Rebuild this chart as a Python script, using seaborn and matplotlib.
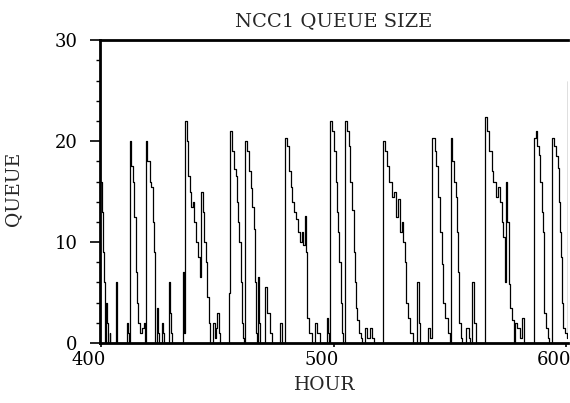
"""
NCC1 queue size over hours 400-600, redrawn as a step trace.
"""

import matplotlib

matplotlib.use("Agg")

import matplotlib.pyplot as plt
import pandas as pd
import seaborn as sns
from matplotlib.transforms import ScaledTranslation

# queue length at each change point
hour = [
    400.0, 400.4, 400.8, 401.2, 401.6, 402.3, 402.6, 402.9, 403.6, 403.9,
    406.3, 406.7, 407.0, 411.0, 411.6, 412.0,
    412.3, 413.0, 413.6, 414.3, 414.8, 415.4, 415.8, 416.5, 417.5, 418.3, 418.8,
    419.2, 419.8, 420.8, 421.5, 422.2, 422.8, 423.0, 423.3,
    424.0, 424.4, 424.7, 426.0, 426.5, 427.0, 429.2, 429.6, 430.0, 430.3,
    435.3, 435.7, 436.2, 436.8, 437.3, 438.0, 438.7, 439.3, 440.0, 440.8,
    441.6, 442.3, 443.0, 443.8, 444.4, 445.0, 445.6, 446.2, 446.6, 447.0,
    448.0, 448.8, 449.4, 450.0, 450.5, 451.2,
    455.0, 455.4, 456.2, 457.0, 457.8, 458.5, 459.0, 459.5, 460.0, 460.5,
    461.0, 461.4,
    462.0, 462.8, 463.6, 464.4, 465.0, 465.6, 466.0, 466.5, 467.0,
    467.5, 468.0, 468.5, 470.5, 471.5, 472.5, 473.5, 477.0, 477.8,
    479.2, 480.0, 480.8, 481.5, 482.2, 483.0, 483.8, 484.6, 485.4, 486.2,
    487.0, 487.6, 488.0, 488.5, 489.3, 490.5,
    492.0, 493.0, 494.0, 497.0, 497.5, 498.2,
    498.5, 499.3, 500.0, 500.8, 501.5, 502.0, 502.5, 503.0, 503.5, 504.0,
    505.0, 505.8, 506.5, 507.2, 508.0, 508.6, 509.0, 509.6, 510.2, 511.0,
    511.8, 512.3,
    513.5, 514.5, 515.5, 516.5, 517.2,
    521.0, 522.0, 523.0, 524.0, 525.0, 526.0, 527.0, 527.8, 528.5, 529.3,
    530.0, 530.7, 531.3, 532.0, 533.0, 534.0,
    536.0, 536.5, 537.0, 540.5, 541.5,
    542.5, 543.5, 544.2, 545.0, 545.8, 546.6, 547.2, 548.0, 549.0, 550.0,
    550.3, 551.0, 551.8, 552.5, 553.0, 553.5, 554.0, 554.8, 555.3,
    557.0, 558.0, 558.5, 559.5, 560.3, 561.0,
    565.0, 566.0, 567.0, 568.0, 568.7, 569.8, 570.8, 571.6, 572.3, 573.0,
    573.6, 574.0, 574.6, 575.3, 576.0, 576.8, 577.5,
    578.0, 579.0, 580.0, 581.0, 582.0,
    586.0, 586.8, 587.6, 588.3, 588.8, 589.4, 590.0, 590.6, 591.3, 592.0,
    592.5,
    594.0, 594.8, 595.6, 596.3, 596.8, 597.3, 597.8, 598.3, 598.8, 599.5,
    600.2, 600.6, 600.9,
]
queue = [
    16, 13, 9, 6, 0, 4, 2, 0, 1, 0,
    6, 1, 0, 2, 1, 0,
    20, 17.5, 16, 12.5, 7, 4, 2, 1, 1.5, 2, 0,
    20, 18, 16, 15.5, 12, 9, 6.5, 0,
    3.5, 1, 0, 2, 1, 0, 6, 3, 1, 0,
    7, 1, 22, 20, 16.5, 15, 13.5, 14, 12, 10,
    8.5, 6.5, 15, 13, 10, 8, 4.6, 2, 1, 0,
    2, 0.5, 1.5, 3, 1, 0,
    5, 21, 19, 17.2, 16.5, 14, 12, 10, 6, 2,
    0.5, 0,
    20, 19, 17, 15.4, 13.5, 11.3, 6, 1, 0,
    6.5, 2, 0, 5.5, 3, 1, 0, 2, 0,
    20.3, 19.5, 17, 15.5, 14, 13, 12.3, 11, 10, 11,
    9.7, 12.6, 9, 2.5, 1, 0,
    2, 1, 0, 2.5, 1, 0,
    22, 21, 19, 16, 13, 11, 8, 4, 1, 0,
    22, 21, 19.5, 16, 13.2, 9, 6, 3.5, 2.3, 1,
    0.5, 0,
    1.5, 0.5, 1.5, 0.5, 0,
    20, 19, 17.5, 16, 14.5, 15, 12.5, 14.3, 11, 12,
    10, 8, 4, 2.5, 1, 0,
    6, 2, 0, 1.5, 0.5,
    20.3, 19, 17.5, 14.5, 11, 7.8, 4, 2.5, 1, 0,
    20.3, 18, 16, 14.5, 11, 7, 2, 0.5, 0,
    1.5, 0.5, 0, 6, 2, 0,
    22.4, 21, 19, 17, 16, 14.5, 15.5, 14, 12, 10.5,
    6, 16, 12, 5.8, 3.5, 2.3, 0,
    2, 1.5, 0.5, 2.5, 0,
    20.3, 21, 19.5, 18.6, 16, 13, 11, 3, 1.5, 0.5,
    0,
    20.3, 19.5, 18.5, 17.3, 14, 11, 8.5, 4, 1.5, 1,
    0.5, 26, 26,
]

x_ticks = [400, 500, 600]
y_ticks = [0, 10, 20, 30]

df = pd.DataFrame({"hour": hour, "queue": queue})

sns.set_theme(style="ticks")
plt.rcParams["font.family"] = ["DejaVu Serif"]

fig = plt.figure(figsize=(5.70, 4.03), dpi=100)
ax = fig.add_axes([0.175, 0.149, 0.822, 0.751])

sns.lineplot(
    data=df,
    x="hour",
    y="queue",
    estimator=None,
    sort=False,
    drawstyle="steps-post",
    color="black",
    linewidth=0.9,
    ax=ax,
)

ax.set_xlim(399.4, 600.9)
ax.set_ylim(0, 30)
ax.set_xticks(x_ticks)
ax.set_yticks(y_ticks)
ax.set_yticks(range(0, 31, 2), minor=True)
ax.tick_params(axis="both", colors="black", labelsize=13, width=1.2)
ax.tick_params(axis="x", length=3, pad=3)
ax.tick_params(axis="y", length=7, pad=9)
ax.tick_params(axis="y", which="minor", length=3, width=1.0, color="black")

# labels on the old plot sit a little left of their ticks
shift = ScaledTranslation(-0.12, 0, fig.dpi_scale_trans)
for lbl in ax.get_xticklabels():
    lbl.set_transform(lbl.get_transform() + shift)

for side in ["left", "bottom", "top"]:
    ax.spines[side].set_linewidth(2.0)
    ax.spines[side].set_color("black")
ax.spines["right"].set_visible(False)

ax.set_title("NCC1 QUEUE SIZE", fontsize=14, pad=10)
ax.set_xlabel("HOUR", fontsize=13.5)
ax.set_ylabel("QUEUE", fontsize=13.5)
ax.xaxis.set_label_coords(0.48, -0.11)
ax.yaxis.set_label_coords(-0.165, 0.51)

fig.savefig("out.png", dpi=100)
